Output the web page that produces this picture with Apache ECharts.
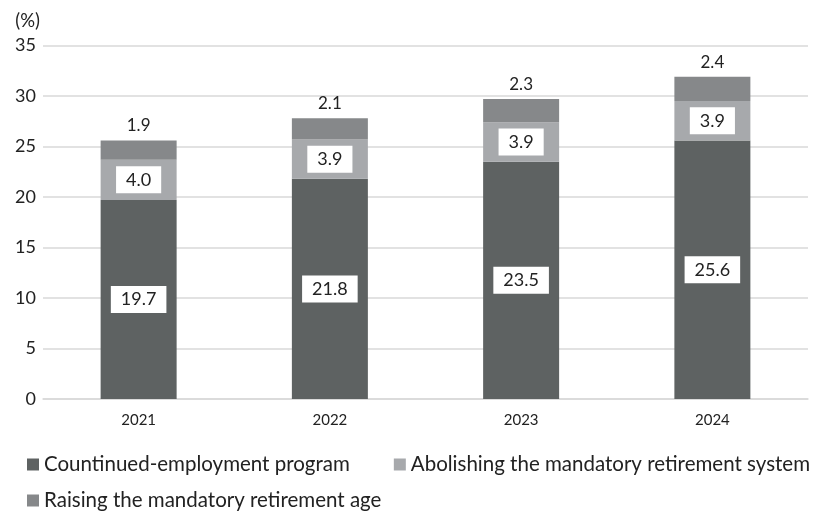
<!DOCTYPE html>
<html><head><meta charset="utf-8">
<script src="https://cdn.jsdelivr.net/npm/echarts@6/dist/echarts.min.js"></script>
<style>html,body{margin:0;padding:0;background:#fff}#c{width:815px;height:512px}</style>
</head><body><div id="c"></div>
<script>
const categories = ['2021', '2022', '2023', '2024'];
const continued = [19.7, 21.8, 23.5, 25.6];
const abolishing = [4.0, 3.9, 3.9, 3.9];
const raising = [1.9, 2.1, 2.3, 2.4];
const yTicks = [0, 5, 10, 15, 20, 25, 30, 35];
const names = ['Countinued-employment program', 'Abolishing the mandatory retirement system', 'Raising the mandatory retirement age'];

const FONT = 'Lato';
const boxLabel = {
  show: true, position: 'inside', color: '#222', fontFamily: FONT, fontSize: 18,
  backgroundColor: '#fff', padding: [5, 10, 4, 10],
  formatter: p => p.value.toFixed(1)
};
const legendText = {fontSize: 20.5, color: '#222', fontFamily: FONT};
const chart = echarts.init(document.getElementById('c'), null, {renderer: 'canvas'});
chart.setOption({
  animation: false,
  textStyle: {fontFamily: FONT},
  grid: {left: 43, right: 7, top: 45.5, bottom: 113, containLabel: false},
  legend: [
    {data: [names[0], names[1]], left: 22, top: 449, itemWidth: 12, itemHeight: 12, itemGap: 44,
     textStyle: legendText, icon: 'rect', selectedMode: false},
    {data: [names[2]], left: 22, top: 485, itemWidth: 12, itemHeight: 12,
     textStyle: legendText, icon: 'rect', selectedMode: false}
  ],
  xAxis: {
    type: 'category', data: categories,
    axisLine: {lineStyle: {color: '#d9d9d9', width: 1.5}}, axisTick: {show: false},
    axisLabel: {color: '#222', fontSize: 15, margin: 14, fontFamily: FONT}
  },
  yAxis: {
    type: 'value', min: 0, max: 35, interval: 5,
    name: '(%)', nameLocation: 'end', nameGap: 15,
    nameTextStyle: {color: '#222', fontSize: 18.5, align: 'right', padding: [0, 3, 0, 0], fontFamily: FONT},
    axisLabel: {color: '#222', fontSize: 18, margin: 7, fontFamily: FONT,
      formatter: v => yTicks.includes(v) ? String(v) : ''},
    splitLine: {lineStyle: {color: '#d9d9d9', width: 1.5}},
    axisLine: {show: false}, axisTick: {show: false}
  },
  series: [
    {name: names[0], type: 'bar', stack: 't', data: continued, barWidth: 76,
     itemStyle: {color: '#5e6262'}, label: boxLabel},
    {name: names[1], type: 'bar', stack: 't', data: abolishing,
     itemStyle: {color: '#a7a9ac'}, label: boxLabel},
    {name: names[2], type: 'bar', stack: 't', data: raising,
     itemStyle: {color: '#86888a'},
     label: {show: true, position: 'top', distance: 6, color: '#222', fontSize: 17, fontFamily: FONT,
       formatter: p => p.value.toFixed(1)}}
  ]
});
</script></body></html>
